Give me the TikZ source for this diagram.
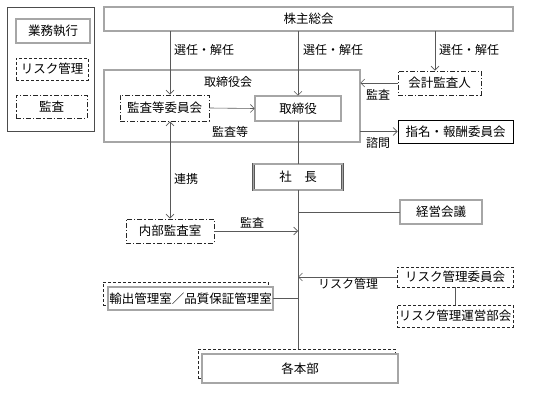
\documentclass[tikz,border=0pt]{standalone}
\usepackage{fontspec}
\setmainfont{Noto Sans CJK JP}
\usetikzlibrary{arrows.meta}
\tikzset{
    box/.style={minimum height=24pt, inner sep=1pt, font=\fontsize{12.5}{13}\selectfont},
    execbox/.style={box, draw=black!65, double=black!35, double distance=1.1pt, line width=0.6pt},
    riskbox/.style={box, draw=black!85, line width=0.9pt, dash pattern=on 3pt off 2pt},
    auditbox/.style={box, draw=black!85, line width=0.9pt, dash pattern=on 5pt off 2pt on 1.2pt off 2pt},
    lbl/.style={font=\fontsize{12}{13}\selectfont, inner sep=1pt},
    link/.style={draw=black!65, line width=0.6pt},
    arr/.style={link, -{Straight Barb[length=4pt,width=8pt]}},
}
\begin{document}
\begin{tikzpicture}[x=1pt, y=-1pt]
    \useasboundingbox (0,0) rectangle (537,393);
    % legend
    \draw[black!70, line width=0.6pt] (7,7) rectangle (94,131);
    \node[execbox, minimum width=74pt] (legexec) at (53,31) {業務執行};
    \node[riskbox, minimum width=72pt, minimum height=22pt] (legrisk) at (52,69) {リスク管理};
    \node[auditbox, minimum width=71pt, minimum height=23pt] (legaudit) at (51.5,106.5) {監査};

    % top
    \node[execbox, minimum width=409pt] (gm) at (308.5,19) {株主総会};
    \node[execbox, minimum width=256pt, minimum height=72pt] (board) at (232,106) {};
    \node[lbl] (boardlbl) at (228,82) {取締役会};
    \node[auditbox, minimum width=89pt, minimum height=26pt] (ac) at (164.5,108) {監査等委員会};
    \node[execbox, minimum width=86pt, minimum height=25pt] (dir) at (298,108.5) {取締役};
    \node[auditbox, minimum width=83pt] (aud) at (439.5,83) {会計監査人};
    \node[box, draw=black, line width=1pt, minimum width=115pt, minimum height=23pt] (nom) at (455.5,131.5) {指名・報酬委員会};

    % middle
    \node[execbox, minimum width=89pt, minimum height=26pt] (pres) at (298,177) {社\quad 長};
    \node[auditbox, minimum width=88pt] (ia) at (170,231) {内部監査室};
    \node[execbox, minimum width=82pt] (mc) at (441,212) {経営会議};
    \node[riskbox, minimum width=116pt, minimum height=20pt] (rc) at (455,277) {リスク管理委員会};
    \node[riskbox, minimum width=116pt, minimum height=22pt] (ro) at (455,316) {リスク管理運営部会};

    % bottom
    \node[riskbox, minimum width=165pt, minimum height=23pt] (expsh) at (185.5,293.5) {};
    \node[execbox, fill=white, minimum width=165pt, minimum height=23pt] (exp) at (190.5,298.5) {輸出管理室／品質保証管理室};
    \node[riskbox, minimum width=197pt, minimum height=29pt] (hqsh) at (296.5,363.5) {};
    \node[execbox, fill=white, minimum width=196pt, minimum height=29pt] (hq) at (300,368.5) {各本部};

    % connectors
    \draw[arr] (gm.south -| ia) -- (ia.north |- ac.north);
    \draw[arr] (gm.south -| dir) -- (dir.north);
    \draw[arr] ([xshift=-4.5pt]gm.south -| aud) -- ([xshift=-4.5pt]aud.north);
    \node[lbl, anchor=west] (sel1) at (173,50) {選任・解任};
    \node[lbl, anchor=west] (sel2) at (302,50) {選任・解任};
    \node[lbl, anchor=west] (sel3) at (438,50) {選任・解任};

    \draw[arr] (ac.east) -- (dir.west);
    \node[lbl] (acl) at (230,132) {監査等};
    \draw[arr] (aud.west) -- (aud.west -| board.east);
    \node[lbl] (audl) at (378,95) {監査};
    \draw[arr] (board.east |- nom.west) -- (nom.west);
    \node[lbl] (noml) at (378,143) {諮問};

    \draw[link, {Straight Barb[length=4pt,width=8pt]}-{Straight Barb[length=4pt,width=8pt]}] (ia.north |- ac.south) -- (ia.north);
    \node[lbl] (coop) at (186,179) {連携};

    \draw[link] (dir.south) -- (pres.north);
    \draw[link] (pres.south) -- (pres.south |- hqsh.north);
    \draw[arr] (ia.east) -- (ia.east -| pres);
    \node[lbl] (ial) at (252,223) {監査};
    \draw[link] (mc.west) -- (mc.west -| pres);
    \draw[arr] (rc.west) -- (rc.west -| pres);
    \node[lbl] (rcl) at (348,284) {リスク管理};
    \draw[link] (rc.south) -- (ro.north);
    \draw[link] (exp.east) -- (exp.east -| pres);
\end{tikzpicture}
\end{document}
